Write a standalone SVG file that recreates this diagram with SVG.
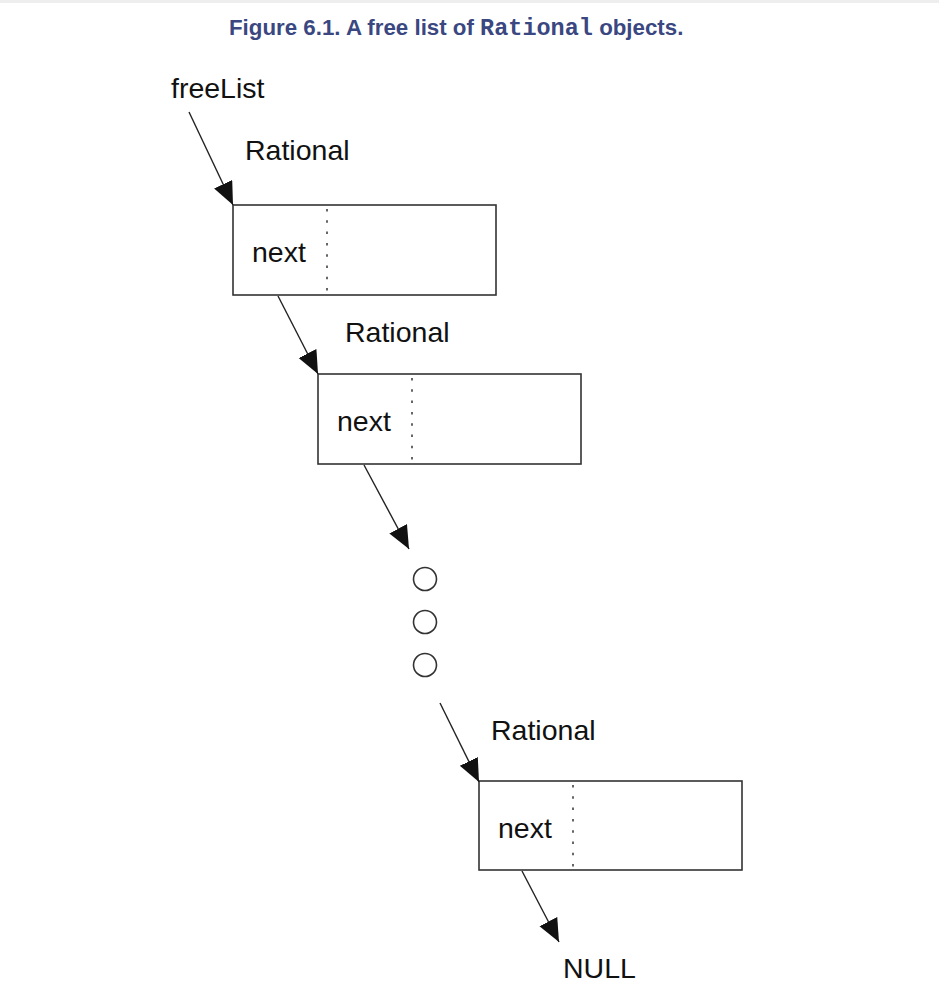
<svg xmlns="http://www.w3.org/2000/svg" width="939" height="1000" viewBox="0 0 939 1000">
<style>
.lbl{font-family:"Liberation Sans",Arial,Helvetica,sans-serif;font-size:28.5px;fill:#111}
.box{fill:#fff;stroke:#333;stroke-width:1.6}
.div{stroke:#666;stroke-width:2;stroke-dasharray:2.5 8.8}
.conn{stroke:#222;stroke-width:1.4;fill:none;marker-end:url(#ah)}
.dot{fill:#fff;stroke:#333;stroke-width:1.6}
.title{font-family:"Liberation Sans",Arial,sans-serif;font-weight:bold;font-size:22.3px;fill:#3a4780}
.mono{font-family:"Liberation Mono","Courier New",monospace;font-size:23.5px}
</style>
<defs>
<marker id="ah" markerUnits="userSpaceOnUse" markerWidth="26" markerHeight="22" refX="23" refY="10" orient="auto">
<path d="M0,0 L23,10 L0,20 z" fill="#111"/>
</marker>
</defs>
<rect x="0" y="0" width="939" height="3" fill="#eeeeee"/>
<text class="title" x="229" y="35">Figure 6.1. A free list of <tspan class="mono">Rational</tspan> objects.</text>
<g id="freeList"><text class="lbl" x="171" y="98">freeList</text></g>
<g id="node1">
<text class="lbl" x="245" y="160">Rational</text>
<rect class="box" x="233" y="205" width="263" height="90"/>
<line class="div" x1="327" y1="209" x2="327" y2="293"/>
<text class="lbl" x="252" y="262">next</text>
</g>
<g id="node2">
<text class="lbl" x="345" y="342">Rational</text>
<rect class="box" x="318" y="374" width="263" height="90"/>
<line class="div" x1="412" y1="378" x2="412" y2="462"/>
<text class="lbl" x="337" y="431">next</text>
</g>
<g id="ellipsis">
<circle class="dot" cx="425" cy="579" r="11.5"/>
<circle class="dot" cx="425" cy="622" r="11.5"/>
<circle class="dot" cx="425" cy="665" r="11.5"/>
</g>
<g id="node3">
<text class="lbl" x="491" y="740">Rational</text>
<rect class="box" x="479" y="781" width="263" height="89"/>
<line class="div" x1="573" y1="785" x2="573" y2="868"/>
<text class="lbl" x="498" y="838">next</text>
</g>
<g id="null"><text class="lbl" x="563" y="978">NULL</text></g>
<g id="connectors">
<line class="conn" x1="189" y1="112" x2="233" y2="205"/>
<line class="conn" x1="278" y1="296" x2="318" y2="374"/>
<line class="conn" x1="364" y1="465" x2="409" y2="549"/>
<line class="conn" x1="440" y1="703" x2="479" y2="782"/>
<line class="conn" x1="522" y1="871" x2="559" y2="942"/>
</g>
</svg>
